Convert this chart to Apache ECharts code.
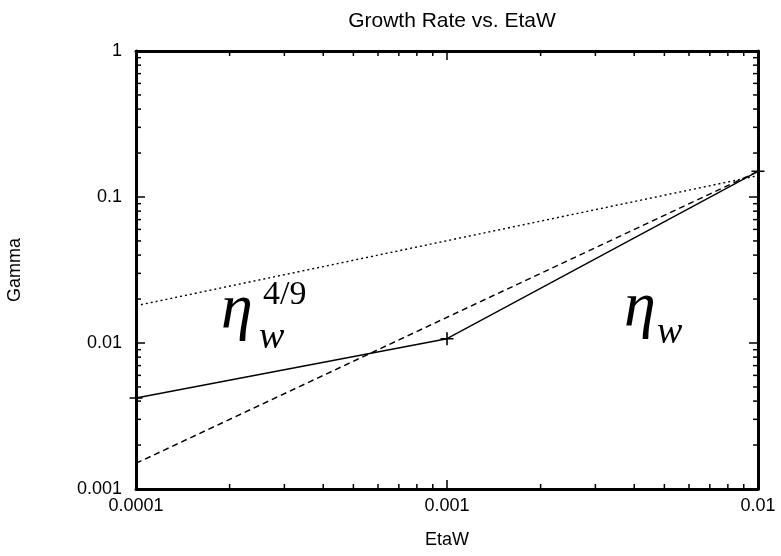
<!DOCTYPE html>
<html><head><meta charset="utf-8">
<script src="https://cdn.jsdelivr.net/npm/echarts@6/dist/echarts.min.js"></script>
<style>html,body{margin:0;padding:0;background:#fff}#c{width:781px;height:556px}</style>
</head><body><div id="c"></div><script>
// Measured growth rate against EtaW
const etaW = [0.0001, 0.001, 0.01];
const gammaMeasured = [0.0042, 0.0107, 0.15];
// Reference slopes: eta_w (linear) and eta_w^(4/9)
const linearX = [0.0001, 0.01];
const linearY = [0.0015, 0.15];
const powerX = [0.0001, 0.01];
const powerY = [0.018, 0.14];
// Axis ranges and tick labels
const X_MIN = 0.0001, X_MAX = 0.01;
const Y_MIN = 0.001, Y_MAX = 1;
const xTickLabels = {'0.0001': '0.0001', '0.001': '0.001', '0.01': '0.01'};
const yTickLabels = {'0.001': '0.001', '0.01': '0.01', '0.1': '0.1', '1': '1'};
const minorMultipliers = [2, 3, 4, 5, 6, 7, 8, 9];
const xDecades = [0.0001, 0.001];
const yDecades = [0.001, 0.01, 0.1];

// minor tick positions for log axes: [x, y, axisFlag]
const minorTicks = [];
xDecades.forEach(d => minorMultipliers.forEach(m => minorTicks.push([+(d * m).toPrecision(3), Y_MIN, 0])));
yDecades.forEach(d => minorMultipliers.forEach(m => minorTicks.push([X_MIN, +(d * m).toPrecision(3), 1])));

const FONT = '"Liberation Sans", Arial, sans-serif';
const SERIF = '"Liberation Serif", "Times New Roman", serif';
const MINOR_LEN = 5;

function labelFor(map) {
  return v => { const k = String(+v.toPrecision(3)); return map[k] !== undefined ? map[k] : ''; };
}

function axisBase(extra) {
  return Object.assign({
    type: 'log', logBase: 10,
    axisLine: { show: true, lineStyle: { color: '#000', width: 3 } },
    axisTick: { show: true, inside: true, length: 9, lineStyle: { color: '#000', width: 1.5 } },
    splitLine: { show: false },
    minorTick: { show: false },
    axisLabel: { show: false }
  }, extra);
}

function renderMinor(params, api) {
  const flag = api.value(2);
  const v = flag === 0 ? api.value(0) : api.value(1);
  const st = { stroke: '#000', lineWidth: 1.5 };
  if (flag === 0) {
    const b = api.coord([v, Y_MIN]);
    const t = api.coord([v, Y_MAX]);
    return { type: 'group', children: [
      { type: 'line', shape: { x1: b[0], y1: b[1], x2: b[0], y2: b[1] - MINOR_LEN }, style: st },
      { type: 'line', shape: { x1: t[0], y1: t[1], x2: t[0], y2: t[1] + MINOR_LEN }, style: st }
    ]};
  }
  const l = api.coord([X_MIN, v]);
  const r = api.coord([X_MAX, v]);
  return { type: 'group', children: [
    { type: 'line', shape: { x1: l[0], y1: l[1], x2: l[0] + MINOR_LEN, y2: l[1] }, style: st },
    { type: 'line', shape: { x1: r[0], y1: r[1], x2: r[0] - MINOR_LEN, y2: r[1] }, style: st }
  ]};
}

const chart = echarts.init(document.getElementById('c'), null, { renderer: 'canvas' });
chart.setOption({
  backgroundColor: '#fff',
  animation: false,
  title: {
    text: 'Growth Rate vs. EtaW', left: 447, textAlign: 'center', top: 6,
    textStyle: { fontFamily: FONT, fontSize: 21, fontWeight: 'normal', color: '#000' }
  },
  grid: { left: 136, right: 23, top: 51, bottom: 67, containLabel: false, outerBoundsMode: 'none' },
  xAxis: [
    axisBase({
      position: 'bottom', min: X_MIN, max: X_MAX,
      name: 'EtaW', nameLocation: 'middle', nameGap: 42,
      nameTextStyle: { fontFamily: FONT, fontSize: 18, color: '#000' },
      axisLabel: { show: true, margin: 8, color: '#000', fontFamily: FONT, fontSize: 18, formatter: labelFor(xTickLabels) }
    }),
    axisBase({ position: 'top', min: X_MIN, max: X_MAX })
  ],
  yAxis: [
    axisBase({
      position: 'left', min: Y_MIN, max: Y_MAX,
      name: 'Gamma', nameLocation: 'middle', nameGap: 112, nameRotate: 90,
      nameTextStyle: { fontFamily: FONT, fontSize: 18, color: '#000' },
      axisLabel: { show: true, margin: 14, color: '#000', fontFamily: FONT, fontSize: 18, formatter: labelFor(yTickLabels) }
    }),
    axisBase({ position: 'right', min: Y_MIN, max: Y_MAX })
  ],
  series: [
    {
      type: 'custom', name: 'minor ticks', renderItem: renderMinor, data: minorTicks,
      silent: true, clip: false, z: 5
    },
    {
      type: 'line', name: 'eta_w^(4/9)', data: powerX.map((x, i) => [x, powerY[i]]),
      showSymbol: false, symbol: 'none', silent: true,
      lineStyle: { color: '#000', width: 1.4, type: [2, 3] }
    },
    {
      type: 'line', name: 'eta_w', data: linearX.map((x, i) => [x, linearY[i]]),
      showSymbol: false, symbol: 'none', silent: true,
      lineStyle: { color: '#000', width: 1.4, type: [6, 4] }
    },
    {
      type: 'line', name: 'Gamma', data: etaW.map((x, i) => [x, gammaMeasured[i]]),
      symbol: 'path://M0,6L12,6M6,0L6,12', symbolSize: 13, showSymbol: true, clip: false,
      itemStyle: { color: 'rgba(0,0,0,0)', borderColor: '#000', borderWidth: 1.6 },
      lineStyle: { color: '#000', width: 1.4 }, z: 6
    }
  ],
  graphic: [
    { type: 'text', left: 221, top: 278, style: { text: 'η', font: 'italic 64px ' + SERIF, fill: '#000' } },
    { type: 'text', left: 259, top: 319, style: { text: 'w', font: 'italic 38px ' + SERIF, fill: '#000' } },
    { type: 'text', left: 263, top: 278, style: { text: '4/9', font: '34px ' + SERIF, fill: '#000' } },
    { type: 'text', left: 624, top: 276, style: { text: 'η', font: 'italic 64px ' + SERIF, fill: '#000' } },
    { type: 'text', left: 657, top: 314, style: { text: 'w', font: 'italic 38px ' + SERIF, fill: '#000' } }
  ]
});
</script></body></html>
